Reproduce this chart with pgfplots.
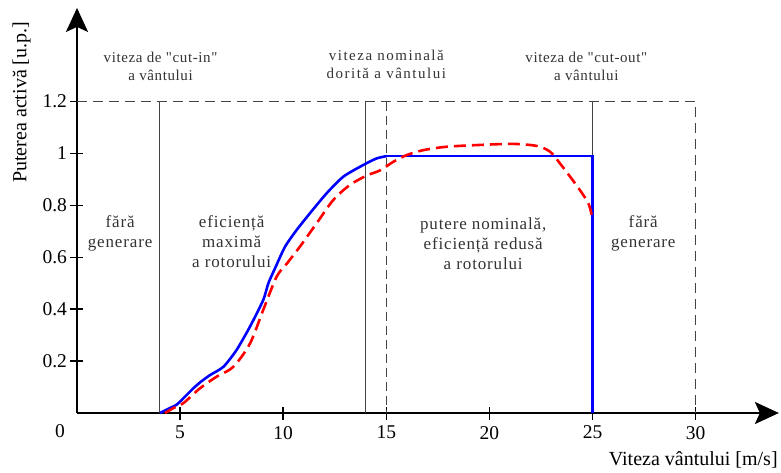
\documentclass[border=0pt]{standalone}
\usepackage{fontspec}
\setmainfont{Liberation Serif}
\newfontfamily\spaced[LetterSpace=10]{Liberation Serif}
\newfontfamily\lspaced[LetterSpace=5]{Liberation Serif}
\newfontfamily\sspaced[LetterSpace=4]{Liberation Serif}
\usepackage{pgfplots}
\pgfplotsset{compat=1.18}
\usetikzlibrary{arrows.meta}
\definecolor{txt}{HTML}{333333}
\definecolor{ln}{HTML}{444444}
\begin{document}
\begin{tikzpicture}
\useasboundingbox (-77pt,-59pt) rectangle (704pt,413pt);
\begin{axis}[
  anchor=origin, at={(0pt,0pt)},
  x=20.62pt, y=259.5pt,
  xmin=0, xmax=34.04, ymin=0, ymax=1.561,
  axis lines=left,
  axis line style={line width=2.6pt, -{Stealth[length=24pt,width=22pt,inset=5pt]}},
  clip=false,
  xtick={5,10,15,20,25,30},
  ytick={0.2,0.4,0.6,0.8,1,1.2},
  tick align=center,
  major tick length=13pt,
  tick style={line width=1.5pt, black},
  ticklabel style={font=\fontsize{19.5}{22}\selectfont},
  xticklabel style={yshift=-3pt},
  /pgf/number format/assume math mode=true,
  xlabel={Viteza vântului [m/s]},
  xlabel style={at={(axis description cs:0.9985,-0.116)}, anchor=east, inner sep=0pt, font=\fontsize{20}{24}\selectfont},
  ylabel={Puterea activă [u.p.]},
  ylabel style={at={(axis description cs:-0.079,0.767)}, anchor=center, inner sep=0pt, font=\fontsize{20}{24}\selectfont},
]
% reference lines
\addplot[ln, mark=none, line width=0.9pt, dash pattern=on 10pt off 6pt] coordinates {(0,1.2) (30,1.2) (30,0)};
\addplot[ln, mark=none, line width=0.9pt, dash pattern=on 9pt off 5pt] coordinates {(15,1.2) (15,0)};
\addplot[ln, mark=none, line width=0.9pt] coordinates {(4,0) (4,1.2)};
\addplot[ln, mark=none, line width=0.9pt] coordinates {(14,0) (14,1.2)};
\addplot[ln, mark=none, line width=0.9pt] coordinates {(25,0.99) (25,1.2)};
% blue curve
\addplot[blue, mark=none, line width=2.6pt, smooth, tension=0.4] coordinates {
(4.03,0) (4.4,0.015) (4.83,0.032) (5.2,0.06) (5.64,0.095) (6.0,0.12) (6.45,0.146) (7.1,0.178)
(7.74,0.243) (8.39,0.333) (9.03,0.435) (9.28,0.5) (9.6,0.557) (10.09,0.641) (10.65,0.705)
(11.3,0.77) (12.11,0.847) (12.92,0.911) (13.89,0.956) (14.53,0.981) (15.02,0.99)};
\addplot[blue, mark=none, line width=2.6pt] coordinates {(15.0,0.99) (25,0.99) (25,0)};
% red dashed curve
\addplot[red, mark=none, line width=2.6pt, smooth, tension=0.5, dash pattern=on 12pt off 6pt] coordinates {
(4.27,0) (4.7,0.02) (5.16,0.038) (5.96,0.095) (6.77,0.14) (7.58,0.178) (8.39,0.268) (9.03,0.397)
(9.68,0.525) (10.17,0.575) (10.81,0.641) (11.62,0.731) (12.43,0.821) (13.24,0.879) (14.05,0.915)
(14.7,0.935) (15.34,0.968) (15.99,0.994) (16.8,1.013) (17.93,1.026) (19.54,1.033) (21.16,1.037)
(22.3,1.029) (22.94,1.007) (23.42,0.962) (23.91,0.911) (24.39,0.859) (24.8,0.808) (24.96,0.763)};
% texts
\node[txt, align=center, font=\sspaced\fontsize{15}{18}\selectfont] at (axis cs:4.05,1.337) {viteza de "cut-in"\\a vântului};
\node[txt, align=center, font=\spaced\fontsize{15}{18}\selectfont] at (axis cs:15.0,1.345) {viteza nominală\\dorită a vântului};
\node[txt, align=center, font=\sspaced\fontsize{15}{18}\selectfont] at (axis cs:24.7,1.337) {viteza de "cut-out"\\a vântului};
\node[txt, align=center, font=\lspaced\fontsize{17}{20}\selectfont] at (axis cs:2.09,0.694) {fără\\generare};
\node[txt, align=center, font=\lspaced\fontsize{17}{20}\selectfont] at (axis cs:7.5,0.660) {eficiență\\maximă\\a rotorului};
\node[txt, align=center, font=\lspaced\fontsize{17}{20}\selectfont] at (axis cs:19.7,0.654) {putere nominală,\\eficiență redusă\\a rotorului};
\node[txt, align=center, font=\lspaced\fontsize{17}{20}\selectfont] at (axis cs:27.46,0.694) {fără\\generare};
\node[font=\fontsize{19.5}{22}\selectfont] at (axis cs:0,0) [xshift=-17pt, yshift=-18.5pt] {0};
\end{axis}
\end{tikzpicture}
\end{document}
